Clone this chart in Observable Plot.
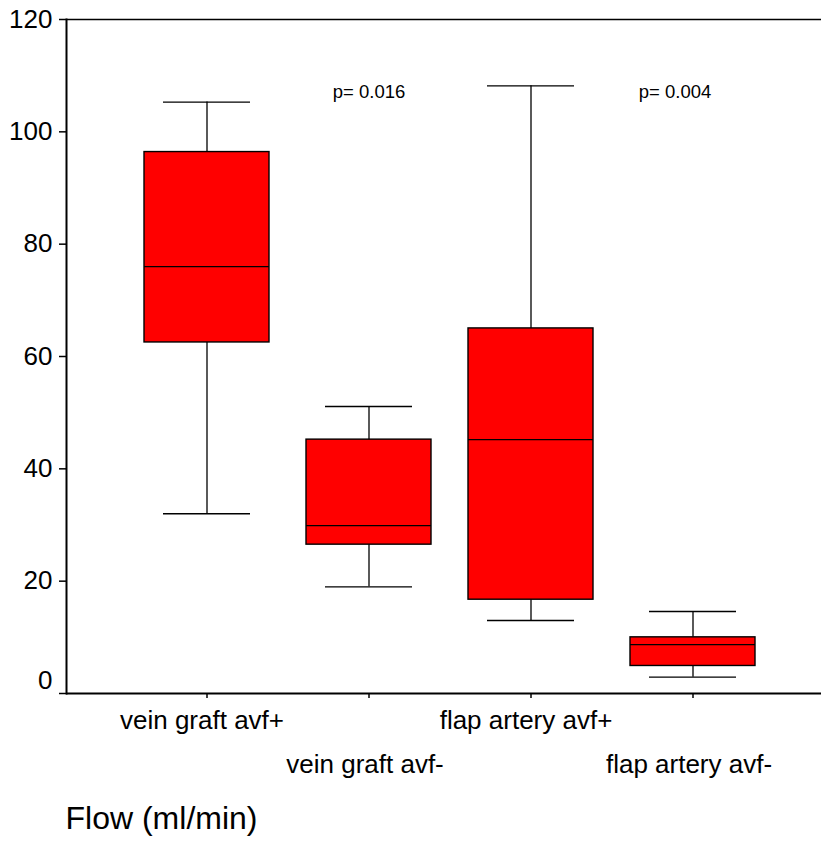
<!DOCTYPE html>
<html>
<head>
<meta charset="utf-8">
<script src="https://cdn.jsdelivr.net/npm/d3@7"></script>
<script src="https://cdn.jsdelivr.net/npm/@observablehq/plot@0.6"></script>
<style>
  body { margin: 0; background: #fff; }
</style>
</head>
<body>
<div id="chart"></div>
<script>
// Data
const categories = ["vein graft avf+", "vein graft avf-", "flap artery avf+", "flap artery avf-"];
const whiskerLow = [32.0, 19.0, 13.0, 2.9];
const q1 = [62.5, 26.5, 16.7, 4.9];
const median = [76.0, 29.9, 45.2, 8.7];
const q3 = [96.4, 45.2, 65.0, 10.0];
const whiskerHigh = [105.3, 51.1, 108.2, 14.6];
const yTicks = [0, 20, 40, 60, 80, 100, 120];
const yZeroTick = [0];
const pLabels = ["p= 0.016", "p= 0.004"];
const pCategories = ["vein graft avf-", "flap artery avf-"];
const pY = [107, 107];
const yLabel = "Flow (ml/min)";

const boxes = categories.map((c, i) => ({
  cat: c, i, lo: whiskerLow[i], q1: q1[i], med: median[i], q3: q3[i], hi: whiskerHigh[i]
}));
const pData = pLabels.map((t, i) => ({ text: t, cat: pCategories[i], y: pY[i], i }));

const font = "'Liberation Sans', Arial, Helvetica, sans-serif";

const chart = Plot.plot({
  width: 821,
  height: 861,
  marginLeft: 66,
  marginRight: 0,
  marginTop: 19,
  marginBottom: 168,
  style: { fontFamily: font, background: "white", color: "black" },
  x: { type: "band", domain: categories, paddingInner: 0.227, paddingOuter: 0.4295, align: 0.543 },
  y: { domain: [0, 120] },
  marks: [
    Plot.ruleY([0], { stroke: "black", strokeWidth: 2 }),
    Plot.ruleY([120], { stroke: "black", strokeWidth: 1.5 }),
    Plot.frame({ anchor: "left", stroke: "black", strokeWidth: 2 }),
    Plot.axisY({ ticks: yTicks, tickSize: 7, tickPadding: 7, fontSize: 26, label: null, strokeWidth: 1.5,
                 tickFormat: d => (d === 0 ? "" : String(d)) }),
    Plot.axisY({ ticks: yZeroTick, tickSize: 0, tickPadding: 14, fontSize: 26, label: null, dy: -13 }),
    Plot.axisX({ tickSize: 5, tickFormat: () => "", label: null, strokeWidth: 1.5 }),
    // whiskers
    Plot.ruleX(boxes, { x: "cat", y1: "lo", y2: "q1", stroke: "black", strokeWidth: 1.3 }),
    Plot.ruleX(boxes, { x: "cat", y1: "q3", y2: "hi", stroke: "black", strokeWidth: 1.3 }),
    Plot.tickY(boxes, { x: "cat", y: "lo", insetLeft: 19, insetRight: 19, stroke: "black", strokeWidth: 1.3 }),
    Plot.tickY(boxes, { x: "cat", y: "hi", insetLeft: 19, insetRight: 19, stroke: "black", strokeWidth: 1.3 }),
    // boxes
    Plot.barY(boxes, { x: "cat", y1: "q1", y2: "q3", fill: "#ff0000", stroke: "black", strokeWidth: 1.4 }),
    Plot.tickY(boxes, { x: "cat", y: "med", stroke: "black", strokeWidth: 1.3 }),
    // category labels, alternating rows
    Plot.text(boxes.filter(d => d.i % 2 === 0), { x: "cat", text: "cat", frameAnchor: "bottom", dy: 35, dx: -5, fontSize: 26, fill: "black" }),
    Plot.text(boxes.filter(d => d.i % 2 === 1), { x: "cat", text: "cat", frameAnchor: "bottom", dy: 79, dx: -4, fontSize: 26, fill: "black" }),
    // p-values
    Plot.text(pData.filter(d => d.i === 0), { x: "cat", y: "y", text: "text", fontSize: 18.5, fill: "black" }),
    Plot.text(pData.filter(d => d.i === 1), { x: "cat", y: "y", text: "text", fontSize: 18.5, fill: "black", dx: -18 }),
    // y label below
    Plot.text([yLabel], { frameAnchor: "bottom-left", textAnchor: "start", dx: -1, dy: 135, fontSize: 32, fill: "black" })
  ]
});
document.getElementById("chart").appendChild(chart);
</script>
</body>
</html>
